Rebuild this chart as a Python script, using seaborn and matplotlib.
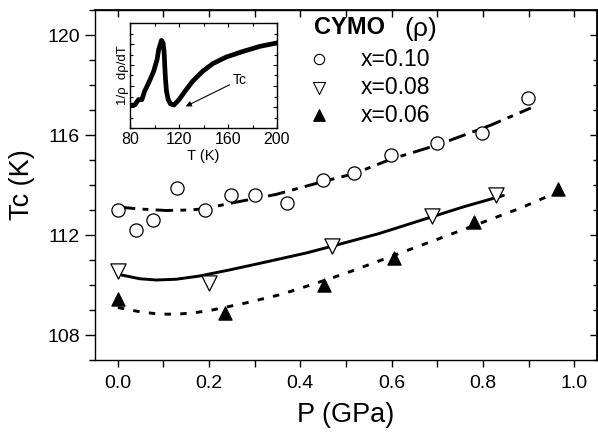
import numpy as np
import pandas as pd
import matplotlib
matplotlib.use("Agg")
import matplotlib.pyplot as plt
import seaborn as sns
from matplotlib.ticker import MultipleLocator

sns.set_theme(style="ticks")
plt.rcParams['font.family'] = ['Liberation Sans', 'DejaVu Sans']
plt.rcParams['text.color'] = 'black'
plt.rcParams['axes.labelcolor'] = 'black'
plt.rcParams['xtick.color'] = 'black'
plt.rcParams['ytick.color'] = 'black'
plt.rcParams['axes.edgecolor'] = 'black'

# ---- data ----
p_010 = [0.0, 0.04, 0.078, 0.13, 0.19, 0.248, 0.30, 0.37, 0.45, 0.518, 0.598, 0.70, 0.797, 0.899]
tc_010 = [113.0, 112.2, 112.6, 113.9, 113.0, 113.6, 113.6, 113.3, 114.2, 114.5, 115.2, 115.7, 116.1, 117.5]

p_008 = [0.0, 0.20, 0.469, 0.688, 0.829]
tc_008 = [110.56, 110.1, 111.55, 112.77, 113.6]

p_006 = [0.0, 0.235, 0.452, 0.606, 0.78, 0.965]
tc_006 = [109.46, 108.9, 109.99, 111.09, 112.54, 113.83]

# fitted curves as drawn in the reference
fit_p_010 = [0.0, 0.048, 0.106, 0.157, 0.19, 0.244, 0.295, 0.346, 0.45, 0.519, 0.598, 0.70, 0.789, 0.818, 0.905]
fit_tc_010 = [113.12, 113.04, 112.98, 113.0, 113.05, 113.26, 113.44, 113.62, 114.14, 114.46, 115.03, 115.6, 116.2, 116.4, 117.08]

fit_p_008 = [0.0, 0.048, 0.084, 0.128, 0.179, 0.244, 0.317, 0.415, 0.469, 0.571, 0.687, 0.76, 0.845]
fit_tc_008 = [110.43, 110.25, 110.2, 110.23, 110.36, 110.6, 110.89, 111.29, 111.55, 112.05, 112.72, 113.14, 113.58]

fit_p_006 = [0.0, 0.048, 0.088, 0.126, 0.164, 0.204, 0.28, 0.357, 0.397, 0.469, 0.513, 0.60, 0.702, 0.781, 0.883, 0.941]
fit_tc_006 = [109.1, 108.93, 108.84, 108.83, 108.88, 108.99, 109.28, 109.62, 109.85, 110.28, 110.56, 111.15, 111.84, 112.38, 113.08, 113.54]

series_labels = ["x=0.10", "x=0.08", "x=0.06"]

inset_T = [80, 84.1, 86.9, 89.7, 91.9, 95.2, 99.3, 102.1, 103.4, 105.7, 107.0, 107.9, 108.4,
           109.0, 109.8, 111.2, 113.1, 115.9, 120.0, 125.5, 131.0, 139.3, 147.6, 158.6,
           172.4, 186.2, 200.0]
inset_v = [0.213, 0.222, 0.27, 0.27, 0.349, 0.429, 0.54, 0.651, 0.746, 0.835, 0.81, 0.714, 0.587,
           0.46, 0.349, 0.27, 0.229, 0.219, 0.27, 0.359, 0.444, 0.54, 0.613, 0.676,
           0.73, 0.778, 0.81]

# ---- figure ----
fig = plt.figure(figsize=(5.98, 4.33), dpi=100)
ax = fig.add_axes([95/598, 1-360/433, 502/598, 350/433])

df_pts = pd.concat([
    pd.DataFrame({"P": p_010, "Tc": tc_010, "s": series_labels[0]}),
    pd.DataFrame({"P": p_008, "Tc": tc_008, "s": series_labels[1]}),
    pd.DataFrame({"P": p_006, "Tc": tc_006, "s": series_labels[2]}),
])

fit_styles = [(0, (6, 2.5, 2, 2.5)), '-', (0, (2.2, 3.2))]
for (fp, ft, ls) in [(fit_p_010, fit_tc_010, fit_styles[0]),
                     (fit_p_008, fit_tc_008, fit_styles[1]),
                     (fit_p_006, fit_tc_006, fit_styles[2])]:
    dff = pd.DataFrame({"P": fp, "Tc": ft})
    sns.lineplot(data=dff, x="P", y="Tc", ax=ax, color="black", lw=2.1, sort=False,
                 linestyle=ls, legend=False, zorder=2)

marker_specs = {series_labels[0]: dict(marker="o", facecolor="white", s=90),
                series_labels[1]: dict(marker="v", facecolor="white", s=120),
                series_labels[2]: dict(marker="^", facecolor="black", s=90)}
for lab in series_labels:
    sub = df_pts[df_pts["s"] == lab]
    spec = marker_specs[lab]
    sns.scatterplot(data=sub, x="P", y="Tc", ax=ax, marker=spec["marker"], s=spec["s"],
                    facecolor=spec["facecolor"], edgecolor="black", linewidth=0.9,
                    legend=False, zorder=3)

ax.set_xlim(-0.05, 1.05)
ax.set_ylim(107, 121)
ax.xaxis.set_major_locator(MultipleLocator(0.2))
ax.xaxis.set_minor_locator(MultipleLocator(0.1))
ax.yaxis.set_major_locator(MultipleLocator(4))
ax.yaxis.set_minor_locator(MultipleLocator(1))
ax.xaxis.set_major_formatter(matplotlib.ticker.FormatStrFormatter('%.1f'))
ax.tick_params(axis='both', which='major', direction='out', length=7, width=1,
               labelsize=14, colors='black', pad=4)
ax.tick_params(axis='x', which='major', length=5, pad=6)
ax.tick_params(axis='both', which='minor', direction='out', length=4, width=1)
ax.tick_params(axis='x', which='minor', length=5)
for sp in ax.spines.values():
    sp.set_linewidth(1.0)
    sp.set_color('black')
ax.set_xlabel("P (GPa)", fontsize=19.5, labelpad=7, color='black')
ax.set_ylabel("Tc (K)", fontsize=19.5, labelpad=9, color='black')

# mirrored top and right ticks (inward)
axt = ax.secondary_xaxis('top')
axt.xaxis.set_major_locator(MultipleLocator(0.1))
axt.tick_params(direction='in', length=5, width=1, labeltop=False)
axr = ax.secondary_yaxis('right')
axr.yaxis.set_major_locator(MultipleLocator(4))
axr.yaxis.set_minor_locator(MultipleLocator(1))
axr.tick_params(which='major', direction='in', length=5, width=1, labelright=False)
axr.tick_params(which='minor', direction='in', length=3, width=1)

# legend (manual)
ax.text(0.437, 0.949, "CYMO", transform=ax.transAxes, fontsize=17, fontweight='bold',
        va='center', ha='left', color='black')
ax.text(0.616, 0.945, "(ρ)", transform=ax.transAxes, fontsize=19, va='center', ha='left',
        color='black')
rows_y = [0.859, 0.778, 0.699]
legend_sizes = [55, 75, 70]
for lab, yy, ss in zip(series_labels, rows_y, legend_sizes):
    spec = marker_specs[lab]
    ax.scatter([0.447], [yy], transform=ax.transAxes, marker=spec["marker"],
               s=ss, facecolor=spec["facecolor"], edgecolor="black",
               linewidth=0.8, zorder=4)
    ax.text(0.530, yy, lab, transform=ax.transAxes, fontsize=16.5, va='center', ha='left',
            color='black')

# ---- inset ----
ins = fig.add_axes([130/598, 1-128/433, 147/598, 105/433])
df_in = pd.DataFrame({"T": inset_T, "v": inset_v})
sns.lineplot(data=df_in, x="T", y="v", ax=ins, color="black", lw=3.4, legend=False)
ins.set_xlim(80, 200)
ins.set_ylim(0.0, 1.0)
ins.xaxis.set_major_locator(MultipleLocator(40))
ins.xaxis.set_minor_locator(MultipleLocator(20))
ins.yaxis.set_major_locator(MultipleLocator(0.2))
ins.yaxis.set_minor_locator(MultipleLocator(0.1))
ins.tick_params(which='both', direction='in', top=True, right=True, width=0.8,
                labelleft=False, labelsize=11.5, pad=3, colors='black')
ins.tick_params(which='major', length=3)
ins.tick_params(which='minor', length=2)
for sp in ins.spines.values():
    sp.set_linewidth(1.0)
    sp.set_color('black')
ins.set_xlabel("T (K)", fontsize=10.5, labelpad=1, color='black')
ins.set_ylabel("1/ρ  dρ/dT", fontsize=9.5, labelpad=1, color='black')
ins.annotate("Tc", xy=(125.5, 0.206), xytext=(164, 0.46), fontsize=10,
             ha='left', va='center', color='black',
             arrowprops=dict(arrowstyle='-|>', color='black', lw=0.8,
                             mutation_scale=8, shrinkA=0, shrinkB=0))

fig.savefig("out.png", dpi=100)
